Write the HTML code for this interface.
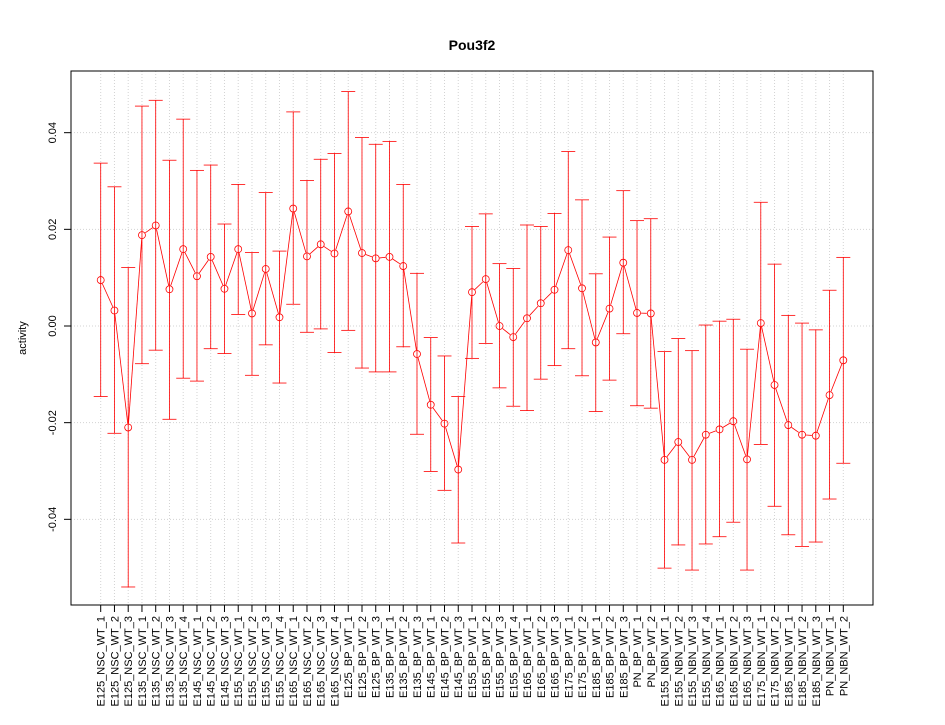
<!DOCTYPE html>
<html><head><meta charset="utf-8"><style>
body{margin:0;background:#fff}
svg text{font-family:"Liberation Sans",sans-serif}
</style></head><body>
<svg id="chart" width="945" height="720" xmlns="http://www.w3.org/2000/svg">
<rect x="0" y="0" width="945" height="720" fill="#fff"/>
<text x="472" y="50" text-anchor="middle" font-size="14" font-weight="bold">Pou3f2</text>
<text x="26" y="338" text-anchor="middle" font-size="11" transform="rotate(-90 26 338)">activity</text>
<g id="grid"></g><g id="marks"></g><g id="axes"></g>
<rect x="71" y="71" width="802" height="534" fill="none" stroke="#000" stroke-width="1"/>
</svg>
<script>
const categories=["E125_NSC_WT_1","E125_NSC_WT_2","E125_NSC_WT_3","E135_NSC_WT_1","E135_NSC_WT_2","E135_NSC_WT_3","E135_NSC_WT_4","E145_NSC_WT_1","E145_NSC_WT_2","E145_NSC_WT_3","E155_NSC_WT_1","E155_NSC_WT_2","E155_NSC_WT_3","E155_NSC_WT_4","E165_NSC_WT_1","E165_NSC_WT_2","E165_NSC_WT_3","E165_NSC_WT_4","E125_BP_WT_1","E125_BP_WT_2","E125_BP_WT_3","E135_BP_WT_1","E135_BP_WT_2","E135_BP_WT_3","E145_BP_WT_1","E145_BP_WT_2","E145_BP_WT_3","E155_BP_WT_1","E155_BP_WT_2","E155_BP_WT_3","E155_BP_WT_4","E165_BP_WT_1","E165_BP_WT_2","E165_BP_WT_3","E175_BP_WT_1","E175_BP_WT_2","E185_BP_WT_1","E185_BP_WT_2","E185_BP_WT_3","PN_BP_WT_1","PN_BP_WT_2","E155_NBN_WT_1","E155_NBN_WT_2","E155_NBN_WT_3","E155_NBN_WT_4","E165_NBN_WT_1","E165_NBN_WT_2","E165_NBN_WT_3","E175_NBN_WT_1","E175_NBN_WT_2","E185_NBN_WT_1","E185_NBN_WT_2","E185_NBN_WT_3","PN_NBN_WT_1","PN_NBN_WT_2"];
const means=[0.0095,0.0032,-0.021,0.0188,0.0208,0.0076,0.0159,0.0103,0.0143,0.0077,0.0159,0.0026,0.0118,0.0018,0.0243,0.0144,0.0169,0.015,0.0237,0.0151,0.014,0.0143,0.0124,-0.0058,-0.0163,-0.0202,-0.0297,0.007,0.0097,0.0,-0.0023,0.0016,0.0047,0.0075,0.0157,0.0078,-0.0034,0.0036,0.0131,0.0027,0.0026,-0.0277,-0.024,-0.0277,-0.0225,-0.0214,-0.0197,-0.0276,0.0006,-0.0122,-0.0205,-0.0225,-0.0227,-0.0143,-0.0071];
const upper=[0.0337,0.0288,0.0121,0.0455,0.0467,0.0343,0.0428,0.0322,0.0333,0.0211,0.0293,0.0152,0.0276,0.0155,0.0443,0.0301,0.0345,0.0357,0.0485,0.039,0.0376,0.0382,0.0293,0.0109,-0.0024,-0.0062,-0.0146,0.0206,0.0232,0.0129,0.0119,0.0209,0.0206,0.0233,0.0361,0.0261,0.0108,0.0184,0.028,0.0218,0.0222,-0.0053,-0.0026,-0.0051,0.0002,0.0010,0.0014,-0.0048,0.0256,0.0128,0.0022,0.0006,-0.0008,0.0074,0.0142];
const lower=[-0.0146,-0.0222,-0.054,-0.0078,-0.005,-0.0193,-0.0108,-0.0114,-0.0047,-0.0057,0.0024,-0.0102,-0.0039,-0.0118,0.0045,-0.0013,-0.0006,-0.0055,-0.0009,-0.0087,-0.0095,-0.0095,-0.0043,-0.0224,-0.0301,-0.034,-0.0449,-0.0067,-0.0036,-0.0128,-0.0166,-0.0175,-0.011,-0.0082,-0.0047,-0.0103,-0.0177,-0.0112,-0.0016,-0.0165,-0.017,-0.0501,-0.0453,-0.0505,-0.0451,-0.0436,-0.0406,-0.0505,-0.0245,-0.0373,-0.0432,-0.0456,-0.0447,-0.0358,-0.0284];
const yTicks=[-0.04,-0.02,0,0.02,0.04];
const yTickLabels=["-0.04","-0.02","0.00","0.02","0.04"];

const NS="http://www.w3.org/2000/svg";
function xPos(i){return 71+(i+2.16)*(802/(categories.length-1+4.32));}
function yPos(v){return 326-v*4833;}
function mk(tag,attrs,parent){const e=document.createElementNS(NS,tag);for(const k in attrs)e.setAttribute(k,attrs[k]);parent.appendChild(e);return e;}
const grid=document.getElementById('grid'),marks=document.getElementById('marks'),axes=document.getElementById('axes');
categories.forEach((c,i)=>{
  const g=mk('line',{x1:xPos(i),x2:xPos(i),y1:71,y2:605,stroke:'#d3d3d3','stroke-dasharray':'1,2'},grid);
  
  
  const tk=mk('line',{x1:xPos(i),x2:xPos(i),y1:605,y2:612,stroke:'#000'},axes);
  
  
  const t=mk('text',{x:0,y:0,'font-size':11,'text-anchor':'end',transform:`translate(${xPos(i)+4},616) rotate(-90)`},axes);
  t.textContent=c;
  
  
});
yTicks.forEach((v,j)=>{
  const g=mk('line',{x1:71,x2:873,y1:yPos(v),y2:yPos(v),stroke:'#d3d3d3','stroke-dasharray':'1,2'},grid);
  
  
  const tk=mk('line',{x1:64,x2:71,y1:yPos(v),y2:yPos(v),stroke:'#000'},axes);
  
  
  const t=mk('text',{x:0,y:0,'font-size':11,'text-anchor':'middle',transform:`translate(56,${yPos(v)}) rotate(-90)`},axes);
  t.textContent=yTickLabels[j];
  
  
});
const red='#ff0000';
categories.forEach((c,i)=>{
  const x=xPos(i);
  const eb=mk('line',{x1:x,x2:x,y1:yPos(upper[i]),y2:yPos(lower[i]),stroke:red,'stroke-width':0.8},marks);
  
  
  [upper[i],lower[i]].forEach(v=>{
    const cap=mk('line',{x1:x-7,x2:x+7,y1:yPos(v),y2:yPos(v),stroke:red,'stroke-width':0.8},marks);
    
    
  });
  if(i>0){
    const x0=xPos(i-1),y0=yPos(means[i-1]),y1=yPos(means[i]);
    const dx=x-x0,dy=y1-y0,L=Math.hypot(dx,dy),r=4;
    if(L>2*r){
      const seg=mk('line',{x1:x0+dx*r/L,y1:y0+dy*r/L,x2:x-dx*r/L,y2:y1-dy*r/L,stroke:red,'stroke-width':0.8},marks);
      
      
    }
  }
  const p=mk('circle',{cx:x,cy:yPos(means[i]),r:3.5,fill:'none',stroke:red,'stroke-width':0.8},marks);
  
  
});
</script>
</body></html>
